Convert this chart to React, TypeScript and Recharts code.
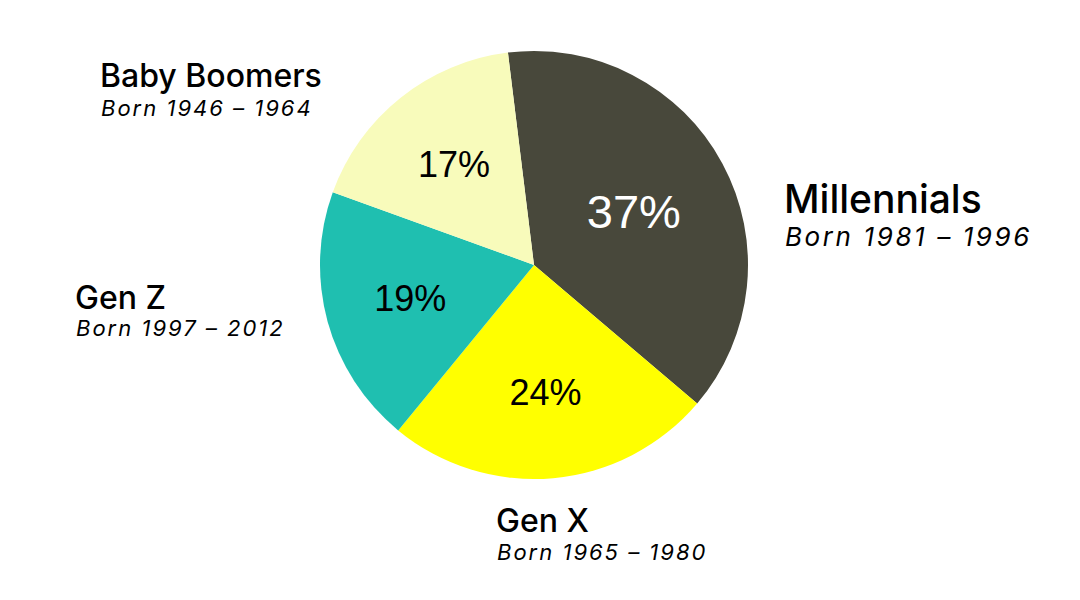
import React from 'react';
import { PieChart, Pie, Cell } from 'recharts';

const GENERATIONS = ['Millennials', 'Gen X', 'Gen Z', 'Baby Boomers'];
const BORN = ['Born 1981 – 1996', 'Born 1965 – 1980', 'Born 1997 – 2012', 'Born 1946 – 1964'];
const SHARES = [37, 24, 19, 17];

const COLORS = ['#48483b', '#ffff00', '#1fbfb0', '#f8fbbb'];
const PCT_COLORS = ['#ffffff', '#000000', '#000000', '#000000'];
const PCT_SIZES = [47, 36, 36, 36];

// label block positions (left edge, name baseline) and font sizes
const LABEL_POS = [
  { x: 784, y: 213, name: 39, sub: 26, gap: 33, ls: 2.6 },
  { x: 496, y: 532, name: 32, sub: 22, gap: 28, ls: 2 },
  { x: 75, y: 309, name: 32, sub: 22, gap: 27, ls: 2 },
  { x: 100, y: 87, name: 32, sub: 22, gap: 29, ls: 2 },
];

const data = GENERATIONS.map((name, i) => ({ name, born: BORN[i], value: SHARES[i] }));

const FONT = 'Inter, "Liberation Sans", sans-serif';
const PCT_FONT = '"Liberation Sans", Arial, sans-serif';
const RAD = Math.PI / 180;

const renderLabel = (props: any) => {
  const { cx, cy, midAngle, outerRadius, index, value } = props;
  const r = outerRadius * (index === 0 ? 0.53 : 0.6);
  const px = cx + r * Math.cos(-midAngle * RAD);
  const py = cy + r * Math.sin(-midAngle * RAD);
  const lp = LABEL_POS[index];
  return (
    <g key={`lbl-${index}`}>
      <text
        x={px}
        y={py}
        textAnchor="middle"
        dominantBaseline="central"
        fill={PCT_COLORS[index]}
        fontSize={PCT_SIZES[index]}
        fontFamily={PCT_FONT}
      >
        {`${value}%`}
      </text>
      <text x={lp.x} y={lp.y} fill="#000" fontSize={lp.name} fontWeight={500} fontFamily={FONT}>
        {GENERATIONS[index]}
      </text>
      <text
        x={lp.x + 1}
        y={lp.y + lp.gap}
        fill="#000"
        fontSize={lp.sub}
        fontStyle="italic"
        fontFamily={FONT}
        letterSpacing={lp.ls}
      >
        {BORN[index]}
      </text>
    </g>
  );
};

export default function App() {
  return (
    <div style={{ position: 'absolute', left: 0, top: 0, width: 1080, height: 600, background: '#fff' }}>
      <PieChart width={1080} height={600} margin={{ top: 0, right: 0, bottom: 0, left: 0 }}>
        <Pie
          data={data}
          dataKey="value"
          nameKey="name"
          cx={534}
          cy={265}
          outerRadius={214}
          startAngle={97}
          endAngle={-263}
          stroke="none"
          label={renderLabel}
          labelLine={false}
          isAnimationActive={false}
        >
          {data.map((d, i) => (
            <Cell key={`cell-${i}`} fill={COLORS[i]} />
          ))}
        </Pie>
      </PieChart>
    </div>
  );
}
